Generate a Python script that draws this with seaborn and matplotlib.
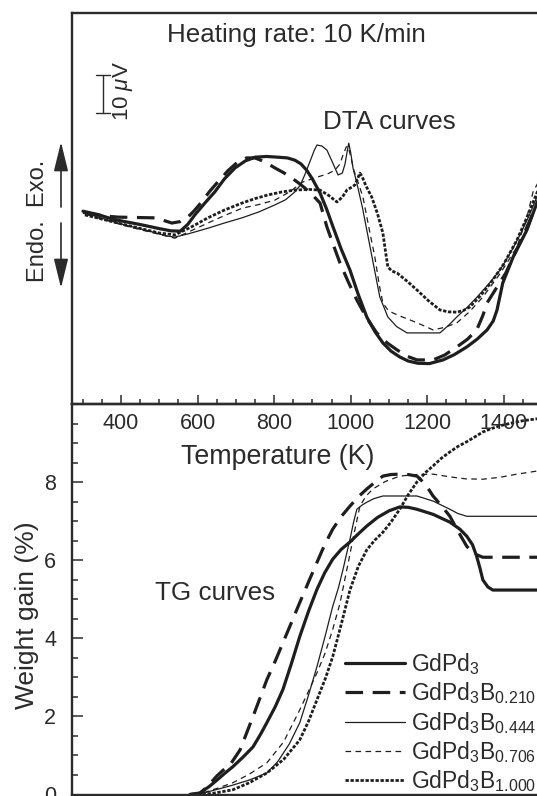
import matplotlib
matplotlib.use("Agg")
import matplotlib.pyplot as plt
import seaborn as sns
from matplotlib.lines import Line2D
from matplotlib.ticker import MultipleLocator

# ---------------- data ----------------
samples = ["GdPd$_3$", "GdPd$_3$B$_{0.210}$", "GdPd$_3$B$_{0.444}$",
           "GdPd$_3$B$_{0.706}$", "GdPd$_3$B$_{1.000}$"]

# DTA curves (temperature K, signal in µV, arbitrary offset)
dta_T_000 = [301, 340, 380, 420, 455, 500, 530, 555, 575, 593, 620, 645, 670, 698, 725, 750, 780, 810,
             835, 854, 870, 885, 900, 920, 937, 954, 975, 998, 1020, 1042, 1063, 1084, 1105, 1128,
             1150, 1175, 1205, 1241, 1270, 1303, 1330, 1356, 1372, 1382, 1397, 1424, 1460, 1486, 1507]
dta_v_000 = [52.2, 51.3, 50.0, 49.2, 48.5, 47.5, 46.9, 46.8, 48.7, 51.2, 54.5, 57.4, 60.9, 63.9, 65.8,
             66.8, 67.0, 66.8, 66.6, 66.0, 65.0, 63.3, 60.9, 57.1, 52.8, 47.9, 42.0, 36.3, 29.6, 23.6,
             19.7, 16.6, 14.4, 12.8, 11.7, 11.1, 11.0, 12.0, 13.4, 15.5, 17.6, 20.1, 22.5, 25.5, 32.8,
             39.8, 47.1, 54.4, 59.3]
dta_T_210 = [301, 350, 392, 440, 489, 515, 533, 555, 575, 592, 611, 632, 653, 680, 705, 728, 750, 775,
             802, 825, 846, 863, 880, 900, 920, 938, 955, 972, 994, 1016, 1042, 1068, 1095, 1121,
             1147, 1173, 1215, 1245, 1277, 1305, 1329, 1345, 1356, 1382, 1405, 1424, 1450, 1476, 1507]
dta_v_210 = [51.9, 51.0, 50.6, 50.5, 50.4, 49.6, 49.0, 49.4, 50.6, 52.4, 54.7, 57.6, 60.1, 63.2, 65.5,
             66.6, 66.6, 65.6, 63.9, 62.6, 61.2, 59.9, 58.5, 56.6, 54.4, 47.9, 43.0, 38.2, 33.0, 28.2,
             23.3, 19.3, 16.6, 14.7, 13.0, 12.0, 12.0, 13.3, 15.5, 17.6, 20.1, 24.0, 27.4, 31.7, 35.5,
             39.8, 45.5, 51.7, 57.9]
dta_T_444 = [306, 360, 410, 475, 520, 541, 580, 627, 670, 716, 760, 802, 830, 854, 868, 880, 895, 905,
             912, 925, 938, 952, 967, 978, 985, 991, 995, 1000, 1006, 1016, 1030, 1042, 1060, 1076,
             1097, 1120, 1147, 1233, 1255, 1277, 1305, 1330, 1360, 1390, 1420, 1442, 1465, 1486, 1507]
dta_v_444 = [51.7, 50.0, 48.5, 46.8, 45.5, 45.2, 46.2, 47.6, 49.0, 50.4, 52.0, 53.9, 55.3, 57.4, 59.2,
             62.0, 66.0, 68.7, 70.1, 69.8, 68.7, 65.5, 62.0, 62.5, 64.9, 68.5, 70.6, 68.0, 63.9, 59.8,
             53.5, 47.1, 37.5, 29.0, 23.6, 21.0, 19.3, 19.3, 21.3, 23.6, 26.3, 29.0, 32.5, 36.3, 41.5,
             45.8, 50.8, 56.0, 60.6]
dta_T_706 = [306, 420, 541, 585, 627, 670, 716, 760, 802, 840, 875, 912, 940, 959, 972, 980, 988, 993,
             1000, 1008, 1020, 1032, 1048, 1063, 1075, 1084, 1097, 1110, 1130, 1155, 1185, 1215, 1245,
             1277, 1310, 1345, 1390, 1434, 1460, 1476, 1507]
dta_v_706 = [51.4, 48.0, 44.9, 47.0, 49.0, 51.0, 53.0, 54.0, 55.2, 57.4, 60.1, 61.4, 62.3, 63.3, 65.0,
             67.4, 69.5, 69.8, 67.0, 63.3, 59.8, 56.0, 47.5, 39.8, 32.0, 27.4, 25.5, 24.7, 23.8, 22.8,
             21.5, 20.1, 20.8, 22.0, 25.0, 29.0, 35.3, 42.5, 50.5, 57.4, 63.3]
dta_T_1000 = [306, 420, 500, 541, 585, 627, 670, 716, 750, 784, 820, 854, 890, 920, 942, 964, 978, 990,
              1001, 1011, 1018, 1024, 1030, 1040, 1055, 1070, 1084, 1092, 1097, 1108, 1121, 1147, 1173,
              1203, 1233, 1255, 1277, 1295, 1311, 1340, 1371, 1400, 1434, 1460, 1486, 1507]
dta_v_1000 = [51.2, 48.3, 46.3, 45.8, 48.0, 50.4, 52.5, 54.4, 55.6, 56.6, 57.4, 57.9, 58.1, 57.9, 56.5,
              54.7, 56.0, 57.9, 58.6, 59.3, 61.0, 62.5, 61.5, 59.0, 56.0, 51.5, 46.3, 40.5, 37.1, 36.0,
              35.5, 33.3, 30.9, 28.0, 25.5, 25.0, 24.9, 25.4, 26.3, 29.5, 33.6, 38.0, 44.4, 50.5, 57.1,
              62.0]

# TG curves (temperature K, weight gain %)
tg_T_000 = [580, 606, 630, 651, 672, 692, 718, 745, 765, 781, 803, 823, 845, 867, 890, 912, 932, 953,
            975, 998, 1020, 1042, 1070, 1100, 1128, 1150, 1173, 1215, 1259, 1285, 1303, 1318, 1329,
            1338, 1345, 1358, 1371, 1507]
tg_w_000 = [0, 0.04, 0.20, 0.37, 0.55, 0.71, 0.95, 1.22, 1.55, 1.84, 2.25, 2.69, 3.35, 4.05, 4.70,
            5.26, 5.68, 6.03, 6.28, 6.47, 6.68, 6.88, 7.10, 7.27, 7.37, 7.36, 7.31, 7.18, 6.98, 6.80,
            6.62, 6.40, 6.10, 5.78, 5.50, 5.32, 5.24, 5.24]
tg_T_210 = [580, 606, 630, 651, 670, 685, 711, 745, 781, 803, 823, 845, 867, 890, 912, 932, 953, 975,
            998, 1020, 1042, 1063, 1084, 1105, 1128, 1150, 1173, 1195, 1215, 1237, 1259, 1280, 1303,
            1322, 1345, 1507]
tg_w_210 = [0, 0.02, 0.25, 0.48, 0.65, 0.76, 1.14, 2.00, 2.94, 3.42, 3.89, 4.40, 4.92, 5.45, 5.95,
            6.40, 6.80, 7.12, 7.39, 7.63, 7.83, 8.00, 8.16, 8.20, 8.21, 8.20, 8.16, 7.95, 7.65, 7.40,
            7.13, 6.75, 6.36, 6.17, 6.08, 6.08]
tg_T_444 = [590, 620, 655, 692, 735, 781, 810, 840, 867, 890, 912, 933, 953, 968, 980, 990, 998, 1008,
            1016, 1030, 1042, 1060, 1084, 1173, 1215, 1259, 1280, 1303, 1507]
tg_w_444 = [0, 0.05, 0.14, 0.24, 0.37, 0.55, 0.85, 1.30, 1.84, 2.55, 3.28, 4.05, 4.82, 5.30, 5.77,
            6.20, 6.54, 7.00, 7.31, 7.42, 7.49, 7.58, 7.65, 7.65, 7.52, 7.31, 7.20, 7.13, 7.13]
tg_T_706 = [590, 620, 655, 692, 735, 781, 825, 867, 890, 912, 933, 953, 972, 990, 1008, 1024, 1040,
            1058, 1090, 1128, 1170, 1215, 1259, 1300, 1345, 1390, 1434, 1507]
tg_w_706 = [0, 0.06, 0.17, 0.30, 0.52, 0.81, 1.35, 2.17, 2.65, 3.12, 3.62, 4.23, 4.90, 5.77, 6.65,
            7.39, 7.65, 7.83, 8.02, 8.16, 8.20, 8.21, 8.14, 8.09, 8.08, 8.13, 8.21, 8.32]
tg_T_1000 = [600, 640, 692, 735, 781, 825, 867, 890, 912, 933, 953, 975, 998, 1020, 1042, 1063, 1084,
             1105, 1128, 1150, 1173, 1195, 1215, 1237, 1259, 1280, 1303, 1325, 1345, 1368, 1390, 1420,
             1450, 1480, 1507]
tg_w_1000 = [0, 0.03, 0.12, 0.30, 0.55, 0.90, 1.40, 1.88, 2.43, 2.95, 3.53, 4.35, 5.24, 5.85, 6.27,
             6.52, 6.72, 6.98, 7.31, 7.68, 8.01, 8.25, 8.42, 8.62, 8.78, 8.92, 9.04, 9.17, 9.29, 9.38,
             9.45, 9.52, 9.58, 9.62, 9.65]

x_major_ticks = [400, 600, 800, 1000, 1200, 1400]
y_major_ticks = [0, 2, 4, 6, 8]

# ---------------- style ----------------
sns.set_style("white")
plt.rcParams['font.family'] = ['Liberation Sans', 'DejaVu Sans']
plt.rcParams['mathtext.fontset'] = 'custom'
plt.rcParams['mathtext.rm'] = 'Liberation Sans'
plt.rcParams['mathtext.it'] = 'Liberation Sans:italic'
plt.rcParams['mathtext.default'] = 'regular'

INK = '#2b2b2b'
LINE = '#1e1e1e'
styles = [
    dict(linewidth=2.3, linestyle='-'),
    dict(linewidth=2.3, linestyle=(0, (5.5, 3.0))),
    dict(linewidth=0.9, linestyle='-'),
    dict(linewidth=0.9, linestyle=(0, (4.5, 3.5))),
    dict(linewidth=2.0, linestyle=(0, (1.2, 0.6))),
]

W, H = 537, 796
fig = plt.figure(figsize=(W / 100, H / 100), dpi=100)
fig.patch.set_facecolor('white')


def fx(px):
    return px / W


def fy(py):
    return 1 - py / H


x0, x1 = 271, 1500
pxK = 0.383
left = 71.5
width_px = (x1 - x0) * pxK
top_px, mid_px, bot_px = 13.3, 404.3, 794.5

ax_tg = fig.add_axes([fx(left), fy(bot_px), width_px / W, (bot_px - mid_px) / H])
ax_dta = fig.add_axes([fx(left), fy(mid_px), width_px / W, (mid_px - top_px) / H])
for ax in (ax_tg, ax_dta):
    ax.set_facecolor('none')
    for sp in ax.spines.values():
        sp.set_visible(True)
        sp.set_color(INK)
        sp.set_linewidth(1.7)

# ---------------- DTA panel ----------------
dta_sets = [(dta_T_000, dta_v_000), (dta_T_210, dta_v_210), (dta_T_444, dta_v_444),
            (dta_T_706, dta_v_706), (dta_T_1000, dta_v_1000)]
for (T, v), st in zip(dta_sets, styles):
    sns.lineplot(x=T, y=v, ax=ax_dta, color=LINE, errorbar=None, legend=False, **st)

ax_dta.set_xlim(x0, x1)
ax_dta.set_ylim(0, 105.7)
ax_dta.set_xticks(x_major_ticks)
ax_dta.set_xticklabels([str(t) for t in x_major_ticks])
ax_dta.xaxis.set_minor_locator(MultipleLocator(50))
ax_dta.set_yticks([])
ax_dta.tick_params(axis='x', which='both', direction='in', bottom=True, top=False,
                   color=INK, width=1.1, labelsize=15.5, labelcolor=INK, pad=6)
ax_dta.tick_params(axis='x', which='major', length=6.7)
ax_dta.tick_params(axis='x', which='minor', length=3.8)
ax_dta.set_xlabel('')
ax_dta.set_ylabel('')

# ---------------- TG panel ----------------
tg_sets = [(tg_T_000, tg_w_000), (tg_T_210, tg_w_210), (tg_T_444, tg_w_444),
           (tg_T_706, tg_w_706), (tg_T_1000, tg_w_1000)]
for (T, w), st, lab in zip(tg_sets, styles, samples):
    sns.lineplot(x=T, y=w, ax=ax_tg, color=LINE, errorbar=None, label=lab, **st)

ax_tg.set_xlim(x0, x1)
ax_tg.set_ylim(0, 10)
ax_tg.set_xticks([])
ax_tg.set_yticks(y_major_ticks)
ax_tg.set_yticklabels([str(t) for t in y_major_ticks])
ax_tg.yaxis.set_minor_locator(MultipleLocator(0.5))
ax_tg.tick_params(axis='y', which='both', direction='in', left=True, right=False,
                  color=INK, width=1.1, labelsize=15.5, labelcolor=INK, pad=11)
ax_tg.tick_params(axis='y', which='major', length=8)
ax_tg.tick_params(axis='y', which='minor', length=4.3)
ax_tg.set_xlabel('')
ax_tg.set_ylabel('')

handles = ax_tg.get_lines()[:5]
leg = ax_tg.legend(handles, samples, loc='upper left',
                   bbox_to_anchor=(fx(345), fy(651)), bbox_transform=fig.transFigure,
                   frameon=False, fontsize=16.5, handlelength=2.6, handletextpad=0.3,
                   labelspacing=0.15, borderpad=0, borderaxespad=0, labelcolor=INK)

# ---------------- texts ----------------
fig.text(fx(296), fy(41.7), 'Heating rate: 10 K/min', ha='center', va='baseline',
         fontsize=18.7, color=INK)
fig.text(fx(323), fy(129), 'DTA curves', ha='left', va='baseline', fontsize=18.7, color=INK)
fig.text(fx(155), fy(600), 'TG curves', ha='left', va='baseline', fontsize=18.7, color=INK)
fig.text(fx(278), fy(464), 'Temperature (K)', ha='center', va='baseline', fontsize=19.3, color=INK)
fig.text(fx(27), fy(615), 'Weight gain (%)', ha='center', va='center', rotation=90,
         fontsize=19, color=INK)
fig.text(fx(38.5), fy(221), 'Endo.  Exo.', ha='center', va='center', rotation=90,
         fontsize=17, color=INK)
fig.text(fx(123), fy(91), r'10 $\mathit{\mu}$V', ha='center', va='center', rotation=90,
         fontsize=16, color=INK)

# endo / exo arrows
for tail, tip in [(207, 142), (223, 288)]:
    ax_dta.annotate('', xy=(fx(61), fy(tip)), xytext=(fx(61), fy(tail)),
                    xycoords='figure fraction', textcoords='figure fraction',
                    arrowprops=dict(arrowstyle='-|>,head_length=0.9,head_width=0.22',
                                    mutation_scale=20, lw=1.2, color=INK,
                                    shrinkA=0, shrinkB=0),
                    annotation_clip=False)

# 10 µV scale bar
fig.add_artist(Line2D([fx(102.7), fx(102.7)], [fy(75), fy(113.3)], transform=fig.transFigure,
                      color=INK, lw=1.0))
for yy in (75, 113.3):
    fig.add_artist(Line2D([fx(96), fx(110)], [fy(yy), fy(yy)], transform=fig.transFigure,
                          color=INK, lw=1.0))

fig.savefig('out.png', dpi=100, facecolor='white')
